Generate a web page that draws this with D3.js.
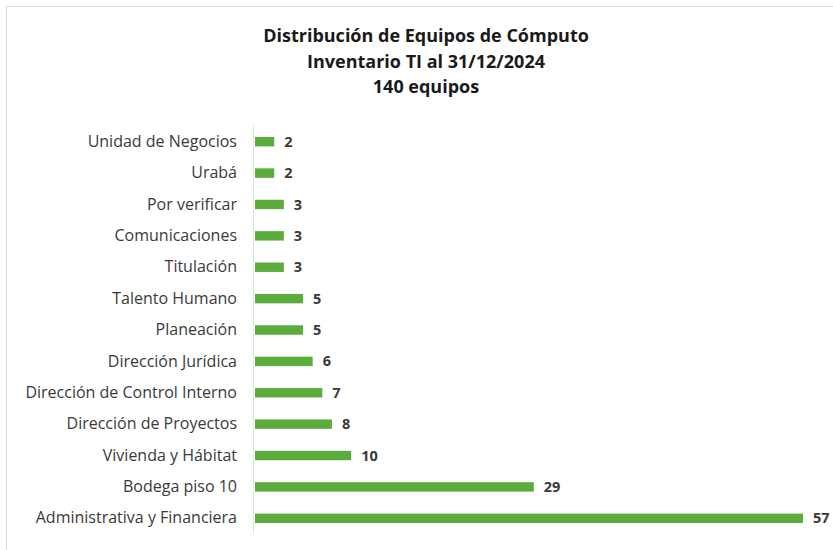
<!DOCTYPE html>
<html>
<head>
<meta charset="utf-8">
<script src="https://cdn.jsdelivr.net/npm/d3@7/dist/d3.min.js"></script>
<style>
  body { margin: 0; background: #fff; }
  text { font-family: "Open Sans", sans-serif; }
</style>
</head>
<body>
<script>
// data, top to bottom
const categories = [
  "Unidad de Negocios", "Urabá", "Por verificar", "Comunicaciones", "Titulación",
  "Talento Humano", "Planeación", "Dirección Jurídica", "Dirección de Control Interno",
  "Dirección de Proyectos", "Vivienda y Hábitat", "Bodega piso 10", "Administrativa y Financiera"
];
const values = [2, 2, 3, 3, 3, 5, 5, 6, 7, 8, 10, 29, 57];
const titleLines = ["Distribución de Equipos de Cómputo", "Inventario TI al 31/12/2024", "140 equipos"];

const width = 833, height = 550;

const svg = d3.select("body").append("svg")
  .attr("width", width)
  .attr("height", height);

// outer frame
svg.append("rect")
  .attr("x", 6.5).attr("y", 6.5)
  .attr("width", width + 10).attr("height", height + 10)
  .attr("fill", "#fff")
  .attr("stroke", "#d9d9d9");

const title = svg.append("text")
  .attr("text-anchor", "middle")
  .attr("font-weight", "bold")
  .attr("font-size", 18)
  .attr("fill", "#1a1a1a");
titleLines.forEach((t, i) => {
  title.append("tspan").attr("x", 426).attr("y", 42 + i * 25.5).text(t);
});

const x = d3.scaleLinear().domain([0, 57]).range([255, 803]);
const y = d3.scaleBand().domain(categories).range([126, 534]).paddingInner(0.7).paddingOuter(0.35);

// vertical axis line
svg.append("line")
  .attr("x1", 253.5).attr("x2", 253.5)
  .attr("y1", 126).attr("y2", 534)
  .attr("stroke", "#e3e3e3");

const yAxis = svg.append("g")
  .attr("transform", "translate(253,0)")
  .call(d3.axisLeft(y).tickSize(0).tickPadding(16));
yAxis.select(".domain").remove();
yAxis.selectAll("text")
  .attr("font-family", "Open Sans, sans-serif")
  .attr("font-size", 16)
  .attr("fill", "#3a3a3a");

svg.append("g").selectAll("rect")
  .data(values)
  .join("rect")
  .attr("x", x(0))
  .attr("y", (d, i) => y(categories[i]))
  .attr("width", d => x(d) - x(0))
  .attr("height", y.bandwidth())
  .attr("fill", "#5aac3c");

svg.append("g").selectAll("text")
  .data(values)
  .join("text")
  .attr("x", d => x(d) + 10)
  .attr("y", (d, i) => y(categories[i]) + y.bandwidth() / 2)
  .attr("dy", "0.35em")
  .attr("font-size", 14.5)
  .attr("font-weight", "bold")
  .attr("fill", "#3a3a3a")
  .text(d => d);
</script>
</body>
</html>
